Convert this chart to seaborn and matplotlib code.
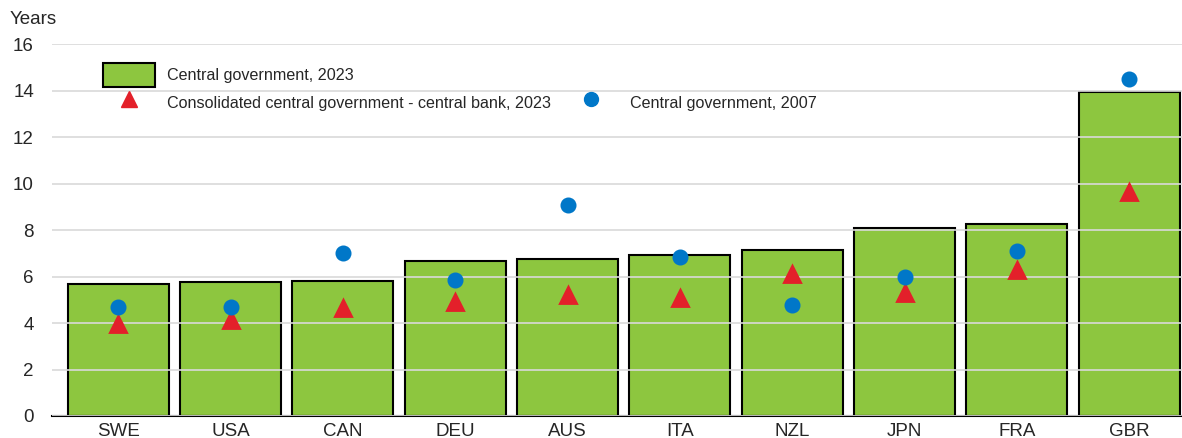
import seaborn as sns
import matplotlib.pyplot as plt
from matplotlib.patches import Patch
from matplotlib.lines import Line2D

# Données
countries = ["SWE", "USA", "CAN", "DEU", "AUS", "ITA", "NZL", "JPN", "FRA", "GBR"]
central_2023 = [5.68, 5.78, 5.82, 6.65, 6.75, 6.92, 7.15, 8.10, 8.26, 13.92]
consolidated_2023 = [3.96, 4.13, 4.63, 4.89, 5.19, 5.08, 6.11, 5.28, 6.27, 9.65]
central_2007 = [4.69, 4.69, 7.00, 5.83, 9.09, 6.84, 4.77, 5.99, 7.10, 14.48]
y_ticks = [0, 2, 4, 6, 8, 10, 12, 14, 16]

green = "#8DC63F"
red = "#E3202A"
blue = "#0077C8"

sns.set_style("white")
plt.rcParams["font.family"] = ["Liberation Sans", "DejaVu Sans"]

fig = plt.figure(figsize=(11.82, 4.38), dpi=100)
ax = fig.add_axes([52 / 1182, 22 / 438, 1 - 52 / 1182, (416 - 44) / 438])

sns.barplot(x=countries, y=central_2023, color=green, width=0.9,
            edgecolor="black", linewidth=1.5, saturation=1, ax=ax)
sns.pointplot(x=countries, y=consolidated_2023, color=red, marker="^",
              markersize=12, linestyle="none", errorbar=None, zorder=4, ax=ax)
sns.pointplot(x=countries, y=central_2007, color=blue, marker="o",
              markersize=9.5, linestyle="none", errorbar=None, zorder=4, ax=ax)

ax.set_xlim(-0.59, 9.47)
ax.set_ylim(0, 16)
ax.set_yticks(y_ticks)
ax.set_axisbelow(False)
ax.yaxis.grid(True, color="#D9D9D9", linewidth=1.2)
ax.xaxis.grid(False)
for side in ["top", "right", "left"]:
    ax.spines[side].set_visible(False)
ax.spines["bottom"].set_color("black")
ax.spines["bottom"].set_linewidth(1.5)
ax.tick_params(axis="both", length=0, labelsize=13.5)
ax.tick_params(axis="y", pad=13)
ax.tick_params(axis="x", pad=5)

fig.text(10 / 1182, 1 - 20 / 438, "Years", fontsize=13.5, va="center", ha="left")

handles = [
    Patch(facecolor=green, edgecolor="black", linewidth=1.5),
    Line2D([], [], marker="^", color=red, linestyle="none", markersize=12),
    Line2D([], [], linestyle="none"),
    Line2D([], [], marker="o", color=blue, linestyle="none", markersize=10),
]
labels = ["Central government, 2023",
          "Consolidated central government - central bank, 2023",
          "",
          "Central government, 2007"]
fig.legend(handles, labels, ncol=2, frameon=False, fontsize=11.6,
           loc="upper left", bbox_to_anchor=(103 / 1182, 1 - 63 / 438),
           borderaxespad=0, borderpad=0, handlelength=3.2, handleheight=1.95,
           handletextpad=0.8, columnspacing=0.85, labelspacing=0.2)

fig.savefig("out.png", dpi=100)
